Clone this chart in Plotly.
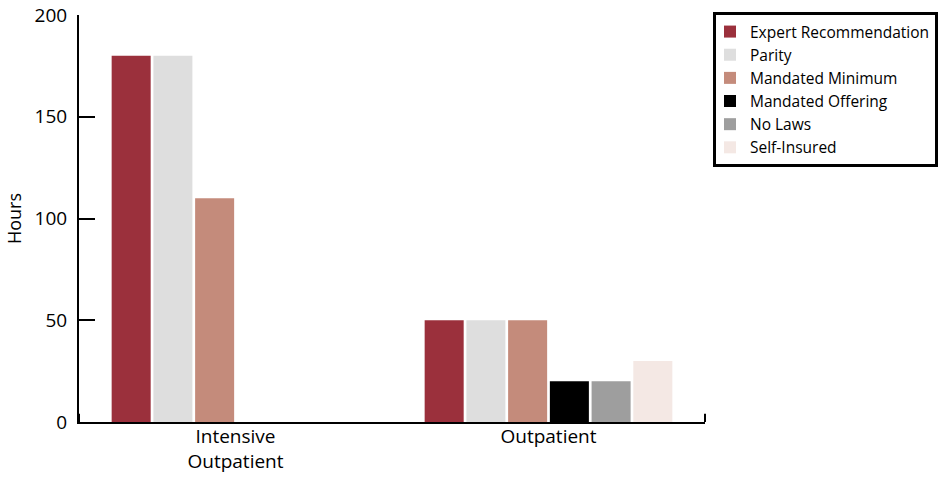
import plotly.graph_objects as go

# Maximum covered treatment hours by coverage policy
categories = ["Intensive<br>Outpatient", "Outpatient"]
series_names = ["Expert Recommendation", "Parity", "Mandated Minimum",
                "Mandated Offering", "No Laws", "Self-Insured"]
series_values = [
    [180, 50],
    [180, 50],
    [110, 50],
    [0, 20],
    [0, 20],
    [0, 30],
]
series_colors = ["#9B303C", "#DEDEDE", "#C48B7B", "#000000", "#9E9E9E", "#F4E8E4"]
y_ticks = [0, 50, 100, 150, 200]

font_family = "Open Sans, Noto Sans, sans-serif"

fig = go.Figure()
for name, vals, col in zip(series_names, series_values, series_colors):
    fig.add_trace(go.Bar(
        x=categories, y=vals, name=name,
        marker=dict(color=col, line=dict(width=0)),
    ))

fig.update_layout(
    width=939, height=478,
    margin=dict(l=79, r=234, t=15, b=56, autoexpand=False),
    paper_bgcolor="white", plot_bgcolor="white",
    barmode="group", bargap=0.2, bargroupgap=0.065,
    font=dict(family=font_family, color="black", size=18),
    showlegend=True,
    legend=dict(
        xref="container", yref="container",
        x=713 / 939, y=1 - 12 / 478, xanchor="left", yanchor="top",
        bordercolor="black", borderwidth=3, indentation=-6,
        font=dict(size=15.5, family=font_family),
        tracegroupgap=0, itemclick=False,
    ),
    xaxis=dict(
        range=[-0.5, 1.5], showline=True, linecolor="black", linewidth=2,
        ticks="", showgrid=False, zeroline=False, automargin=False,
        tickfont=dict(size=19), ticklabelstandoff=-4,
    ),
    yaxis=dict(
        range=[0, 200], tickvals=y_ticks, showline=True, linecolor="black",
        linewidth=2, ticks="inside", ticklen=16, tickwidth=2, tickcolor="black",
        showgrid=False, zeroline=False, ticklabelstandoff=6, automargin=False,
        title=dict(text="Hours", font=dict(size=18), standoff=8),
        tickfont=dict(size=19),
    ),
)

# Small upturned end ticks on the category axis
for xp in (0, 1):
    fig.add_shape(type="line", xref="paper", yref="paper",
                  x0=xp, x1=xp, y0=0, y1=0.02,
                  line=dict(color="black", width=2))

fig.write_html("out.html")
